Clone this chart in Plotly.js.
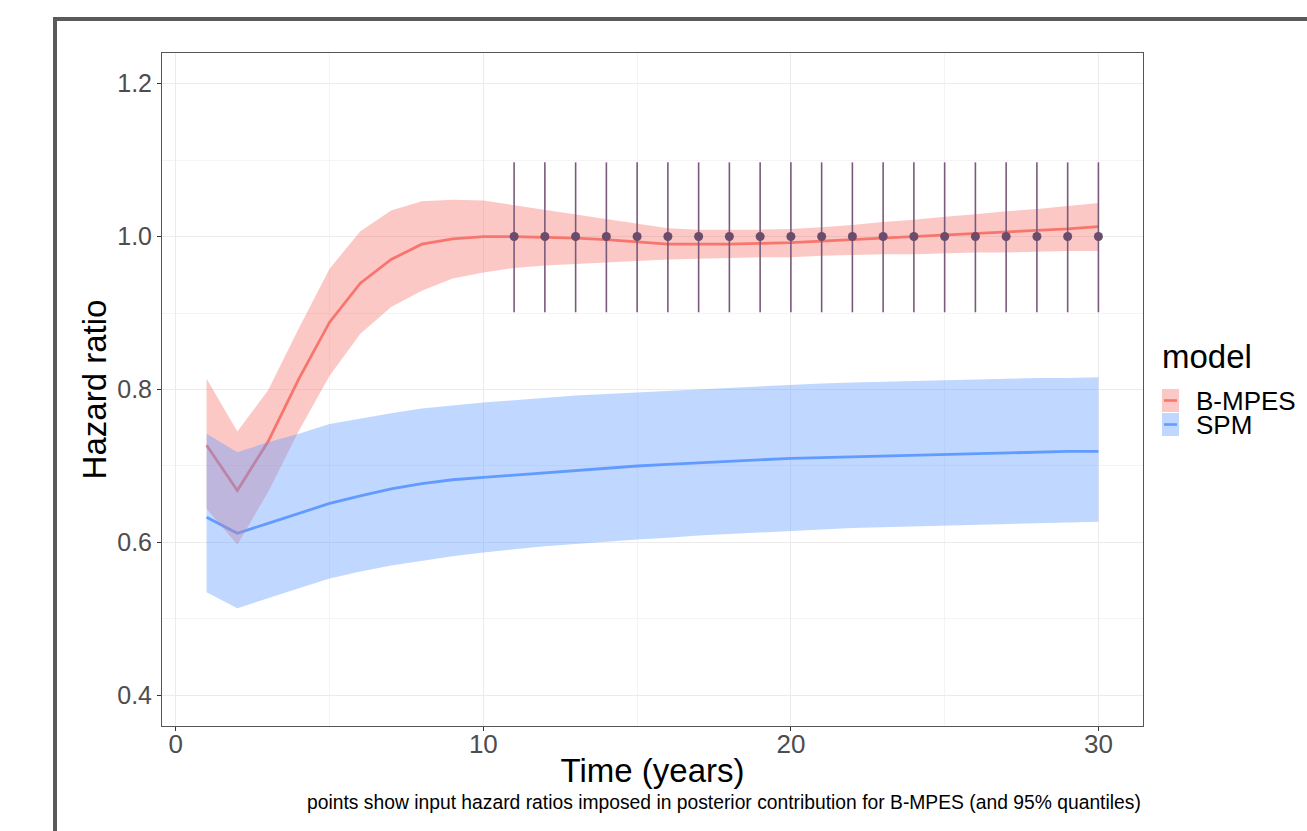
<!DOCTYPE html>
<html>
<head>
<meta charset="utf-8">
<script src="https://cdn.plot.ly/plotly-3.0.1.min.js"></script>
<style>
  html, body { margin:0; padding:0; background:#ffffff; overflow:hidden; }
  #frame { position:absolute; left:53px; top:17px; width:3000px; height:3000px;
           border-left:4px solid #5a5a5a; border-top:4px solid #5a5a5a; z-index:0; }
  #chart { position:absolute; left:0; top:0; width:1307px; height:831px; z-index:1; }
</style>
</head>
<body>
<div id="frame"></div>
<div id="chart"></div>
<script>
// ---- data ----
var years = [1,2,3,4,5,6,7,8,9,10,11,12,13,14,15,16,17,18,19,20,21,22,23,24,25,26,27,28,29,30];

var bmpesMid   = [0.727,0.668,0.732,0.814,0.888,0.939,0.970,0.990,0.997,1.000,1.000,0.999,0.998,0.996,0.993,0.990,0.990,0.990,0.991,0.992,0.994,0.996,0.998,1.000,1.002,1.004,1.006,1.008,1.010,1.013];
var bmpesUpper = [0.814,0.745,0.799,0.880,0.958,1.007,1.034,1.046,1.048,1.047,1.041,1.035,1.029,1.023,1.017,1.011,1.009,1.009,1.009,1.010,1.012,1.015,1.019,1.022,1.026,1.029,1.033,1.036,1.040,1.044];
var bmpesLower = [0.644,0.597,0.666,0.746,0.818,0.873,0.908,0.929,0.945,0.953,0.959,0.962,0.964,0.966,0.968,0.970,0.971,0.972,0.973,0.973,0.975,0.976,0.977,0.977,0.978,0.979,0.979,0.980,0.981,0.981];

var spmMid   = [0.633,0.612,0.625,0.638,0.651,0.661,0.670,0.677,0.682,0.685,0.688,0.691,0.694,0.697,0.700,0.702,0.704,0.706,0.708,0.710,0.711,0.712,0.713,0.714,0.715,0.716,0.717,0.718,0.719,0.719];
var spmUpper = [0.742,0.718,0.731,0.742,0.755,0.762,0.769,0.775,0.779,0.783,0.786,0.789,0.792,0.794,0.796,0.798,0.800,0.802,0.804,0.806,0.808,0.809,0.810,0.811,0.812,0.813,0.814,0.815,0.815,0.816];
var spmLower = [0.535,0.514,0.527,0.540,0.553,0.562,0.570,0.576,0.582,0.587,0.591,0.595,0.598,0.601,0.604,0.606,0.609,0.611,0.613,0.615,0.617,0.619,0.620,0.621,0.622,0.623,0.624,0.625,0.626,0.627];

var inputYears = [11,12,13,14,15,16,17,18,19,20,21,22,23,24,25,26,27,28,29,30];
var inputHR    = [1,1,1,1,1,1,1,1,1,1,1,1,1,1,1,1,1,1,1,1];
var inputLower = [0.901,0.901,0.901,0.901,0.901,0.901,0.901,0.901,0.901,0.901,0.901,0.901,0.901,0.901,0.901,0.901,0.901,0.901,0.901,0.901];
var inputUpper = [1.097,1.097,1.097,1.097,1.097,1.097,1.097,1.097,1.097,1.097,1.097,1.097,1.097,1.097,1.097,1.097,1.097,1.097,1.097,1.097];

var xTicks = [0,10,20,30];
var yTicks = [0.4,0.6,0.8,1.0,1.2];
var modelNames = ['B-MPES','SPM'];

// ---- styles ----
var RED = '#F8766D', BLUE = '#619CFF';
var RED_FILL = 'rgba(248,118,109,0.4)', BLUE_FILL = 'rgba(97,156,255,0.4)';
var FONT = 'Liberation Sans, Arial, Helvetica, sans-serif';

function band(x, up, lo) {
  return { x: x.concat(x.slice().reverse()), y: up.concat(lo.slice().reverse()) };
}
var rb = band(years, bmpesUpper, bmpesLower);
var bb = band(years, spmUpper, spmLower);

var traces = [
  { x: years, y: bmpesMid, mode:'lines', line:{color:RED, width:2.8}, showlegend:false, hoverinfo:'skip', name:modelNames[0] },
  { x: years, y: spmMid, mode:'lines', line:{color:BLUE, width:2.8}, showlegend:false, hoverinfo:'skip', name:modelNames[1] },
  { x: rb.x, y: rb.y, mode:'lines', fill:'toself', fillcolor:RED_FILL, line:{width:0, color:RED_FILL}, showlegend:false, hoverinfo:'skip' },
  { x: bb.x, y: bb.y, mode:'lines', fill:'toself', fillcolor:BLUE_FILL, line:{width:0, color:BLUE_FILL}, showlegend:false, hoverinfo:'skip' },
  { x: inputYears, y: inputHR, mode:'markers', showlegend:false, hoverinfo:'skip',
    marker:{color:'#6b4c6c', size:9},
    error_y:{ type:'data', symmetric:false,
      array: inputUpper.map(function(u,i){return u - inputHR[i];}),
      arrayminus: inputLower.map(function(l,i){return inputHR[i] - l;}),
      color:'#7a5a7b', thickness:1.6, width:0 } }
];

function px(x){ return (x - 162) / 981; }
function py(y){ return (726 - y) / 673; }

var shapes = [
  { type:'rect', xref:'paper', yref:'paper', x0:px(1162), x1:px(1179), y0:py(412), y1:py(389), fillcolor:RED_FILL, line:{width:0} },
  { type:'line', xref:'paper', yref:'paper', x0:px(1164), x1:px(1177), y0:py(400.5), y1:py(400.5), line:{color:RED, width:2.6} },
  { type:'rect', xref:'paper', yref:'paper', x0:px(1162), x1:px(1179), y0:py(436), y1:py(413), fillcolor:BLUE_FILL, line:{width:0} },
  { type:'line', xref:'paper', yref:'paper', x0:px(1164), x1:px(1177), y0:py(424.5), y1:py(424.5), line:{color:BLUE, width:2.6} }
];

var annotations = [
  { text:'model', xref:'paper', yref:'paper', x:px(1160), y:py(357), xanchor:'left', yanchor:'middle', showarrow:false, font:{family:FONT, size:33, color:'#000'} },
  { text:modelNames[0], xref:'paper', yref:'paper', x:px(1194), y:py(401), xanchor:'left', yanchor:'middle', showarrow:false, height:24, valign:'middle', font:{family:FONT, size:26, color:'#000'} },
  { text:modelNames[1], xref:'paper', yref:'paper', x:px(1194), y:py(425), xanchor:'left', yanchor:'middle', showarrow:false, height:24, valign:'middle', font:{family:FONT, size:26, color:'#000'} },
  { text:'points show input hazard ratios imposed in posterior contribution for B-MPES (and 95% quantiles)',
    xref:'paper', yref:'paper', x:1, y:py(802), xanchor:'right', yanchor:'middle', showarrow:false,
    font:{family:FONT, size:19.3, color:'#000'} }
];

var layout = {
  width:1307, height:831,
  margin:{l:162, r:164, t:53, b:105, pad:0},
  paper_bgcolor:'rgba(0,0,0,0)', plot_bgcolor:'#ffffff',
  font:{family:FONT},
  showlegend:false,
  xaxis:{
    range:[-0.45, 31.45], tickvals:xTicks, ticktext:xTicks.map(String),
    ticks:'outside', ticklen:4, tickcolor:'#333', tickwidth:1,
    ticklabelstandoff:-9,
    tickfont:{family:FONT, size:26, color:'#4D4D4D'},
    showgrid:true, gridcolor:'#EBEBEB', gridwidth:1.2,
    minor:{tickvals:[5,15,25], showgrid:true, gridcolor:'#EFEFEF', gridwidth:0.7, ticks:''},
    zeroline:false, showline:true, mirror:true, linecolor:'#555', linewidth:1,
    title:{text:'Time (years)', font:{family:FONT, size:33, color:'#000'}, standoff:0}
  },
  yaxis:{
    range:[0.36, 1.24], tickvals:yTicks, ticktext:yTicks.map(function(v){return v.toFixed(1);}),
    ticks:'outside', ticklen:4, tickcolor:'#333', tickwidth:1,
    tickfont:{family:FONT, size:25, color:'#4D4D4D'},
    showgrid:true, gridcolor:'#EBEBEB', gridwidth:1.2,
    minor:{tickvals:[0.5,0.7,0.9,1.1], showgrid:true, gridcolor:'#EFEFEF', gridwidth:0.7, ticks:''},
    zeroline:false, showline:true, mirror:true, linecolor:'#555', linewidth:1,
    title:{text:'Hazard ratio', font:{family:FONT, size:33, color:'#000'}, standoff:0}
  },
  shapes:shapes,
  annotations:annotations
};

Plotly.newPlot('chart', traces, layout, {displayModeBar:false, staticPlot:true});
</script>
</body>
</html>
